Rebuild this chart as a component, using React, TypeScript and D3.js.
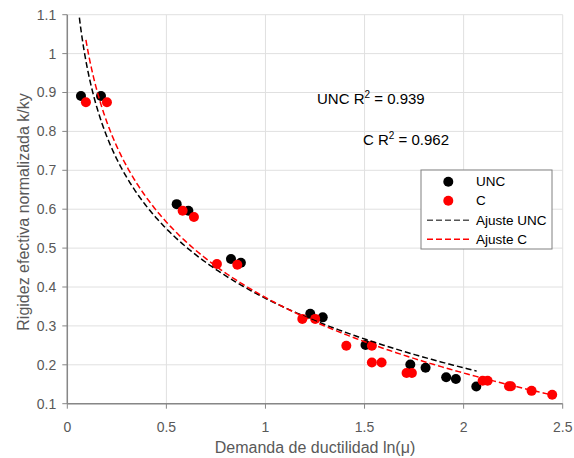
import React from "react";
import * as d3 from "d3";

// Ductility demand ln(μ) vs normalized effective stiffness k/ky
const uncX = [0.069, 0.17, 0.552, 0.611, 0.826, 0.876, 1.226, 1.289, 1.505, 1.731, 1.808, 1.912, 1.961, 2.064];
const uncY = [0.891, 0.891, 0.613, 0.596, 0.472, 0.4625, 0.331, 0.322, 0.251, 0.201, 0.1925, 0.168, 0.1635, 0.144];

const cX = [0.094, 0.2, 0.582, 0.639, 0.755, 0.858, 1.186, 1.251, 1.408, 1.537, 1.537, 1.586, 1.712, 1.739, 2.096, 2.121, 2.229, 2.239, 2.343, 2.447];
const cY = [0.875, 0.875, 0.596, 0.58, 0.459, 0.457, 0.318, 0.318, 0.249, 0.249, 0.206, 0.206, 0.179, 0.179, 0.159, 0.159, 0.145, 0.145, 0.133, 0.123];

// Logarithmic trendlines y = a + b·ln(x): [a, b], with their x spans
const uncFit = [0.371, -0.258];
const uncFitSpan = [0.061, 2.066];
const cFit = [0.373, -0.28];
const cFitSpan = [0.094, 2.455];

const xTicks = [0, 0.5, 1, 1.5, 2, 2.5];
const yTicks = [0.1, 0.2, 0.3, 0.4, 0.5, 0.6, 0.7, 0.8, 0.9, 1, 1.1];

const W = 574;
const H = 458;
const FONT = "'Liberation Sans', Arial, sans-serif";

export default function App() {
  const x = d3.scaleLinear().domain([0, 2.5]).range([67.3, 562.7]);
  const y = d3.scaleLinear().domain([0.1, 1.1]).range([403.7, 14.7]);

  const fitPath = (coef: number[], span: number[]) => {
    const n = 300;
    const l0 = Math.log(span[0]);
    const l1 = Math.log(span[1]);
    const pts: [number, number][] = d3.range(0, n + 1).map((i) => {
      const v = Math.exp(l0 + ((l1 - l0) * i) / n);
      return [v, coef[0] + coef[1] * Math.log(v)] as [number, number];
    });
    return d3
      .line<[number, number]>()
      .x((d) => x(d[0]))
      .y((d) => y(d[1]))(pts) as string;
  };

  const uncPath = fitPath(uncFit, uncFitSpan);
  const cPath = fitPath(cFit, cFitSpan);

  const axisColor = "#878787";
  const gridColor = "#e0e0e0";
  const textColor = "#595959";

  return (
    <svg
      width={W}
      height={H}
      style={{ position: "absolute", left: 0, top: 0, background: "#fff" }}
      fontFamily={FONT}
    >
      {/* grid */}
      {yTicks.map((t) => (
        <line key={"gy" + t} x1={x(0)} x2={x(2.5)} y1={y(t)} y2={y(t)} stroke={gridColor} strokeWidth={1} />
      ))}
      {xTicks.map((t) => (
        <line key={"gx" + t} x1={x(t)} x2={x(t)} y1={y(0.1)} y2={y(1.1)} stroke={gridColor} strokeWidth={1} />
      ))}

      {/* axes */}
      <line x1={x(0)} x2={x(0)} y1={y(1.1)} y2={y(0.1)} stroke={axisColor} strokeWidth={1.5} />
      <line x1={x(0)} x2={x(2.5)} y1={y(0.1)} y2={y(0.1)} stroke={axisColor} strokeWidth={1.5} />
      {yTicks.map((t) => (
        <g key={"ty" + t}>
          <line x1={x(0) - 5} x2={x(0)} y1={y(t)} y2={y(t)} stroke={axisColor} strokeWidth={1} />
          <text x={x(0) - 11} y={y(t)} dy="0.35em" textAnchor="end" fontSize={14} fill={textColor}>
            {d3.format("~g")(t)}
          </text>
        </g>
      ))}
      {xTicks.map((t) => (
        <g key={"tx" + t}>
          <line x1={x(t)} x2={x(t)} y1={y(0.1)} y2={y(0.1) + 5} stroke={axisColor} strokeWidth={1} />
          <text x={x(t)} y={432} textAnchor="middle" fontSize={14} fill={textColor}>
            {d3.format("~g")(t)}
          </text>
        </g>
      ))}

      {/* axis titles */}
      <text x={315} y={453} textAnchor="middle" fontSize={16} fill={textColor}>
        Demanda de ductilidad ln(μ)
      </text>
      <text
        transform="translate(29, 212) rotate(-90)"
        textAnchor="middle"
        fontSize={16}
        fill={textColor}
      >
        Rigidez efectiva normalizada k/ky
      </text>

      {/* points */}
      {uncX.map((v, i) => (
        <circle key={"u" + i} cx={x(v)} cy={y(uncY[i])} r={5} fill="#000" />
      ))}
      {cX.map((v, i) => (
        <circle key={"c" + i} cx={x(v)} cy={y(cY[i])} r={5} fill="#ff0000" />
      ))}

      {/* trendlines */}
      <path d={uncPath} fill="none" stroke="#000" strokeWidth={1.5} strokeDasharray="6,3" />
      <path d={cPath} fill="none" stroke="#ff0000" strokeWidth={1.5} strokeDasharray="6,3" />

      {/* R² annotations */}
      <text x={317} y={104} fontSize={15} fill="#000">
        UNC R<tspan dy={-6} fontSize={10}>2</tspan>
        <tspan dy={6}> = 0.939</tspan>
      </text>
      <text x={363} y={145} fontSize={15} fill="#000">
        C R<tspan dy={-6} fontSize={10}>2</tspan>
        <tspan dy={6}> = 0.962</tspan>
      </text>

      {/* legend */}
      <g>
        <rect x={421} y={170} width={131} height={79} fill="#fff" stroke="#808080" strokeWidth={1} />
        <circle cx={448.3} cy={181.7} r={5} fill="#000" />
        <text x={476} y={181.7} dy="0.35em" fontSize={13.5} fill="#000">UNC</text>
        <circle cx={448.3} cy={200.7} r={5} fill="#ff0000" />
        <text x={476} y={200.7} dy="0.35em" fontSize={13.5} fill="#000">C</text>
        <line x1={427} x2={471} y1={220.3} y2={220.3} stroke="#555" strokeWidth={1.5} strokeDasharray="6,3" />
        <text x={476} y={220.3} dy="0.35em" fontSize={13.5} fill="#000">Ajuste UNC</text>
        <line x1={427} x2={471} y1={239.3} y2={239.3} stroke="#ff0000" strokeWidth={1.5} strokeDasharray="6,3" />
        <text x={476} y={239.3} dy="0.35em" fontSize={13.5} fill="#000">Ajuste C</text>
      </g>
    </svg>
  );
}
